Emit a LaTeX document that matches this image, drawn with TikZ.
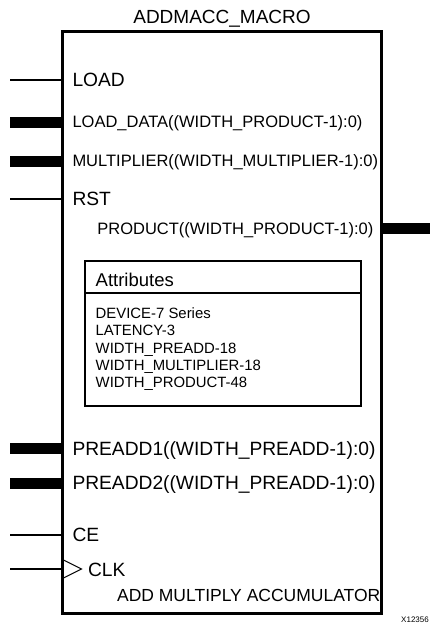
\documentclass[tikz,border=0pt]{standalone}
\usepackage{fontspec}
\setmainfont{Liberation Sans}
\begin{document}
\begin{tikzpicture}[x=1pt,y=-1pt,
 lbl/.style={anchor=base west,inner sep=0pt,outer sep=0pt},
 bigfont/.style={font=\fontsize{19.2}{21}\selectfont},
 medfont/.style={font=\fontsize{16.5}{18}\selectfont},
 attfont/.style={font=\fontsize{14.9}{16}\selectfont},
 pinwire/.style={line width=1.2pt},
 buswire/.style={line width=11pt},
]
\useasboundingbox (0,0) rectangle (430,634);
% main block
\node[draw,line width=3pt,inner sep=0pt,outer sep=0pt,minimum width=319pt,minimum height=581pt] (macro) at (221.75,322.5) {};
\node[anchor=base,inner sep=0pt,font=\fontsize{19}{21}\selectfont] (title) at (222,24) {ADDMACC\_MACRO};

% left pin wire ends
\coordinate (pLOAD) at (10,80);
\coordinate (pLDATA) at (10,122);
\coordinate (pMULT) at (10,161);
\coordinate (pRST) at (10,199);
\coordinate (pPA1) at (10,448);
\coordinate (pPA2) at (10,483);
\coordinate (pCE) at (10,535);
\coordinate (pCLK) at (10,569);
\coordinate (pPROD) at (430,228);

\draw[pinwire] (pLOAD) -- (pLOAD -| macro.west);
\draw[buswire] (pLDATA) -- (pLDATA -| macro.west);
\draw[buswire] (pMULT) -- (pMULT -| macro.west);
\draw[pinwire] (pRST) -- (pRST -| macro.west);
\draw[buswire] (pPA1) -- (pPA1 -| macro.west);
\draw[buswire] (pPA2) -- (pPA2 -| macro.west);
\draw[pinwire] (pCE) -- (pCE -| macro.west);
\draw[pinwire] (pCLK) -- (pCLK -| macro.west);
\draw[buswire] (pPROD -| macro.east) -- (pPROD);

% clock triangle
\draw[line width=1pt,line join=miter] (62.5,559.5) -- (81.5,569) -- (62.5,578.5);

% pin labels
\node[lbl,bigfont] (tLOAD) at (72.5,86) {LOAD};
\node[lbl,medfont] (tLDATA) at (72.5,127.7) {LOAD\_DATA((WIDTH\_PRODUCT-1):0)};
\node[lbl,medfont] (tMULT) at (72.5,166.7) {MULTIPLIER((WIDTH\_MULTIPLIER-1):0)};
\node[lbl,bigfont] (tRST) at (72.5,205) {RST};
\node[anchor=base east,inner sep=0pt,medfont] (tPROD) at (373.5,234.2) {PRODUCT((WIDTH\_PRODUCT-1):0)};
\node[lbl,bigfont] (tPA1) at (72.5,455) {PREADD1((WIDTH\_PREADD-1):0)};
\node[lbl,bigfont] (tPA2) at (72.5,489.3) {PREADD2((WIDTH\_PREADD-1):0)};
\node[lbl,bigfont] (tCE) at (72.5,541) {CE};
\node[lbl,bigfont] (tCLK) at (88,576.7) {CLK};
\node[anchor=base east,inner sep=0pt,font=\fontsize{17.5}{19}\selectfont] (tfunc) at (380.5,601) {ADD MULTIPLY ACCUMULATOR};

% attributes box
\draw[line width=1.5pt] (85,261) rectangle (361,406);
\draw[line width=1.8pt] (85,293) -- (361,293);
\node[lbl,font=\fontsize{18.5}{20}\selectfont] (attr) at (95.7,286) {Attributes};
\node[lbl,attfont] (a1) at (95.7,318.3) {DEVICE-7 Series};
\node[lbl,attfont] (a2) at (95.7,335.7) {LATENCY-3};
\node[lbl,attfont] (a3) at (95.7,353.1) {WIDTH\_PREADD-18};
\node[lbl,attfont] (a4) at (95.7,370.5) {WIDTH\_MULTIPLIER-18};
\node[lbl,attfont] (a5) at (95.7,387.9) {WIDTH\_PRODUCT-48};

% figure id
\node[anchor=base east,inner sep=0pt,font=\fontsize{8}{9}\selectfont] (fid) at (429,622) {X12356};
\end{tikzpicture}
\end{document}
